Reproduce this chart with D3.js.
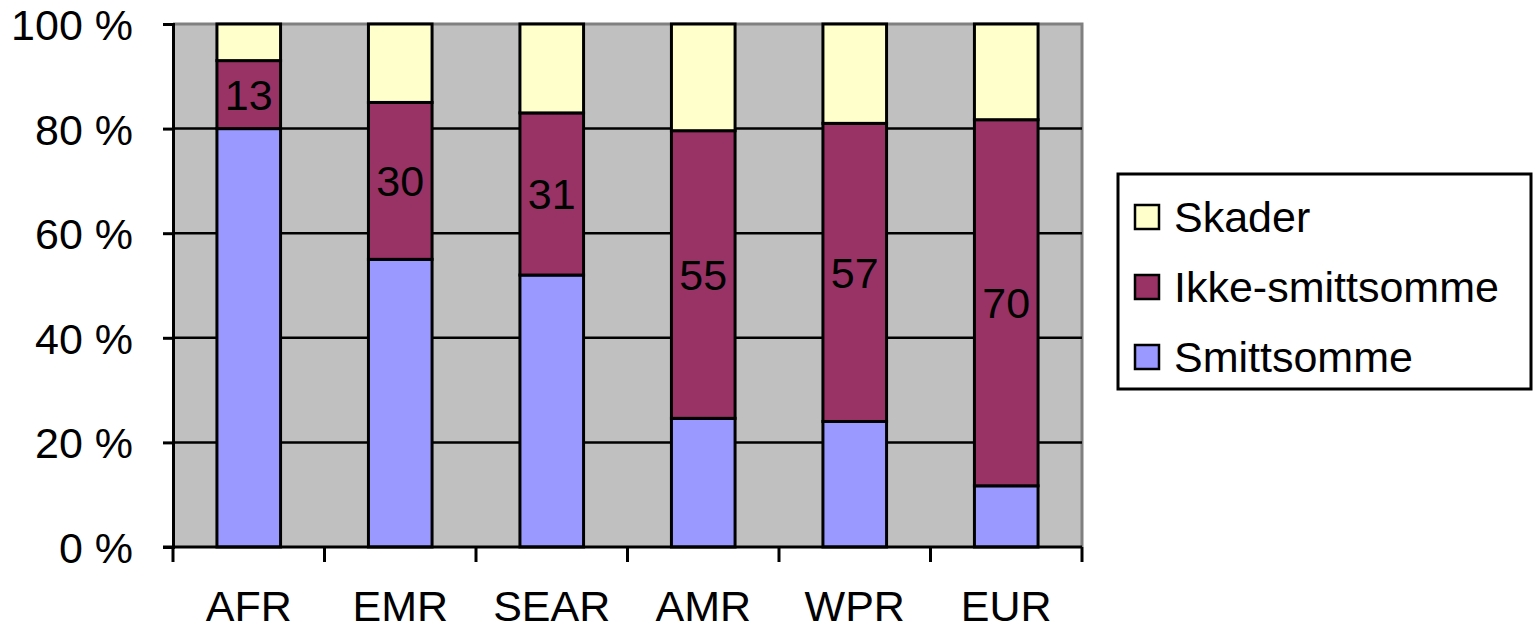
<!DOCTYPE html>
<html>
<head>
<meta charset="utf-8">
<script src="https://cdn.jsdelivr.net/npm/d3@7"></script>
<style>
  html, body { margin: 0; padding: 0; background: #fff; }
  svg { display: block; }
  text { font-family: "Liberation Sans", Arial, sans-serif; fill: #000; }
</style>
</head>
<body>
<svg id="chart" width="1533" height="631"></svg>
<script>
// Regions and the share of burden by cause group (percent)
const regions = ["AFR", "EMR", "SEAR", "AMR", "WPR", "EUR"];
const smittsomme = [80, 55, 52, 24.6, 24, 11.7];
const ikkeSmittsomme = [13, 30, 31, 55, 57, 70];
const skader = [7, 15, 17, 20.4, 19, 18.3];
const seriesNames = ["Smittsomme", "Ikke-smittsomme", "Skader"];
const seriesColors = ["#9999FF", "#993366", "#FFFFCC"];
const yTicks = [0, 20, 40, 60, 80, 100];

const rows = regions.map((r, i) => ({
  region: r,
  Smittsomme: smittsomme[i],
  "Ikke-smittsomme": ikkeSmittsomme[i],
  Skader: skader[i]
}));

const svg = d3.select("#chart");
const plot = { left: 173, right: 1082, top: 24, bottom: 547 };
const fontSize = 43;

const x = d3.scaleBand().domain(regions).range([plot.left, plot.right]).paddingInner(0.58).paddingOuter(0.29);
const xBoundary = d3.scaleLinear().domain([0, regions.length]).range([plot.left, plot.right]);
const y = d3.scaleLinear().domain([0, 100]).range([plot.bottom, plot.top]);

// Plot background
svg.append("rect")
  .attr("x", plot.left).attr("y", plot.top)
  .attr("width", plot.right - plot.left).attr("height", plot.bottom - plot.top)
  .attr("fill", "#C0C0C0");

// Gray frame on top and right
svg.append("path")
  .attr("d", `M${plot.left},${plot.top}H${plot.right}V${plot.bottom}`)
  .attr("fill", "none").attr("stroke", "#808080").attr("stroke-width", 3);

// Horizontal gridlines
svg.append("g").selectAll("line")
  .data(yTicks.filter(t => t > 0 && t < 100))
  .join("line")
  .attr("x1", plot.left).attr("x2", plot.right)
  .attr("y1", d => y(d)).attr("y2", d => y(d))
  .attr("stroke", "#000").attr("stroke-width", 2.5);

// Stacked bars, normalised to 100 %
const stack = d3.stack().keys(seriesNames);
const stacked = stack(rows);
const color = d3.scaleOrdinal().domain(seriesNames).range(seriesColors);

svg.append("g").selectAll("g")
  .data(stacked)
  .join("g")
  .attr("fill", d => color(d.key))
  .selectAll("rect")
  .data(d => d)
  .join("rect")
  .attr("x", d => x(d.data.region))
  .attr("width", x.bandwidth())
  .attr("y", d => y(d[1]))
  .attr("height", d => y(d[0]) - y(d[1]))
  .attr("stroke", "#000").attr("stroke-width", 3);

// Value labels on the non-communicable segment
const ikke = stacked.find(s => s.key === "Ikke-smittsomme");
svg.append("g").selectAll("text")
  .data(ikke)
  .join("text")
  .attr("x", d => x(d.data.region) + x.bandwidth() / 2)
  .attr("y", d => (y(d[0]) + y(d[1])) / 2)
  .attr("text-anchor", "middle")
  .attr("dy", "0.36em")
  .style("font-size", fontSize + "px")
  .text(d => d3.format("d")(d.data["Ikke-smittsomme"]));

// Y axis
const yAxis = d3.axisLeft(y).tickValues(yTicks).tickSize(10).tickPadding(30)
  .tickFormat(d => d + " %");
const gy = svg.append("g").attr("transform", `translate(${plot.left},0)`).call(yAxis);
gy.select(".domain").attr("stroke", "#000").attr("stroke-width", 3);
gy.selectAll(".tick line").attr("stroke", "#000").attr("stroke-width", 3);
gy.selectAll(".tick text").style("font-size", fontSize + "px")
  .style("font-family", "'Liberation Sans', Arial, sans-serif").attr("fill", "#000").attr("dy", "0.36em");

// X axis: ticks at category boundaries, labels centred under bars
const gx = svg.append("g").attr("transform", `translate(0,${plot.bottom})`);
gx.append("line").attr("x1", plot.left - 10).attr("x2", plot.right)
  .attr("stroke", "#000").attr("stroke-width", 3);
gx.selectAll("line.tick")
  .data(d3.range(regions.length + 1))
  .join("line").attr("class", "tick")
  .attr("x1", d => xBoundary(d)).attr("x2", d => xBoundary(d))
  .attr("y1", 0).attr("y2", 15)
  .attr("stroke", "#000").attr("stroke-width", 3);
gx.selectAll("text")
  .data(regions)
  .join("text")
  .attr("x", d => x(d) + x.bandwidth() / 2)
  .attr("y", 74)
  .attr("text-anchor", "middle")
  .style("font-size", fontSize + "px")
  .text(d => d);

// Legend
const legend = svg.append("g");
legend.append("rect")
  .attr("x", 1118).attr("y", 174).attr("width", 413).attr("height", 215)
  .attr("fill", "#fff").attr("stroke", "#000").attr("stroke-width", 3);
const legendOrder = ["Skader", "Ikke-smittsomme", "Smittsomme"];
const ly = d3.scalePoint().domain(legendOrder).range([217, 357]);
const items = legend.selectAll("g.item")
  .data(legendOrder)
  .join("g").attr("class", "item")
  .attr("transform", d => `translate(0,${ly(d)})`);
items.append("rect")
  .attr("x", 1135).attr("y", -12).attr("width", 24).attr("height", 24)
  .attr("fill", d => color(d)).attr("stroke", "#000").attr("stroke-width", 2.5);
items.append("text")
  .attr("x", 1174).attr("dy", "0.36em")
  .style("font-size", fontSize + "px")
  .text(d => d);
</script>
</body>
</html>
